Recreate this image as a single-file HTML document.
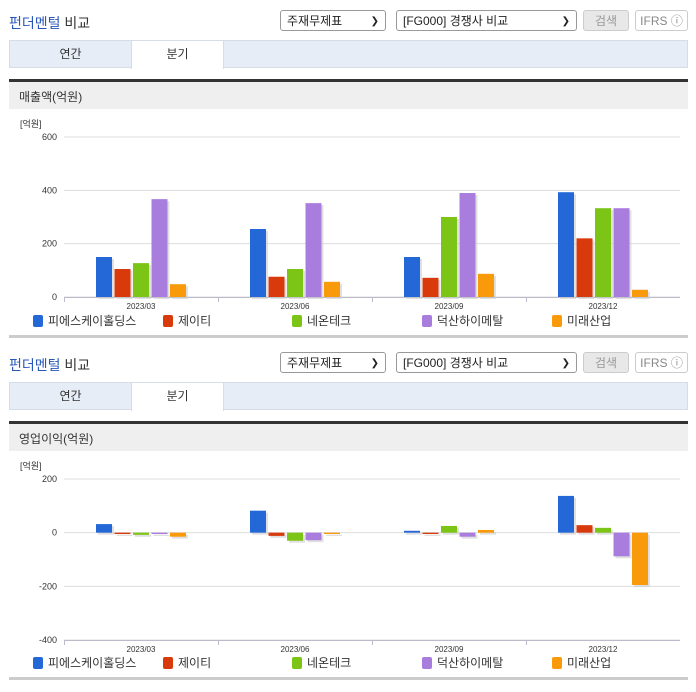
<!DOCTYPE html>
<html><head><meta charset="utf-8">
<style>
body{margin:0;width:696px;height:684px;background:#fff;font-family:"Liberation Sans","Noto Sans CJK KR",sans-serif;overflow:hidden;position:relative}
.abs{position:absolute}
.title{font-size:14px;color:#333}
.title b{color:#2857b8;font-weight:normal}
.sel{border:1px solid #999;border-radius:3px;background:#fff;font-size:12px;height:21px;line-height:21px;padding-left:6px;box-sizing:border-box;color:#222}
.sel span{position:absolute;right:6px;top:0;font-size:10px}
.btn{border:1px solid #ccc;border-radius:3px;font-size:12px;height:21px;line-height:20px;text-align:center;box-sizing:border-box;color:#999}
.tabs{left:9px;width:679px;height:28px;background:#e6edf7;border:1px solid #d6dde8;box-sizing:border-box}
.tab{top:0;height:28px;line-height:27px;text-align:center;font-size:12px;color:#333}
.sec{left:9px;width:679px;height:30px;background:#efefef;border-top:3px solid #333;font-size:12px;line-height:30px;padding-left:10px;box-sizing:border-box;color:#333}
</style></head><body>
<div id="root"></div>
<script>
const categories=["2023/03","2023/06","2023/09","2023/12"];
const seriesNames=["피에스케이홀딩스","제이티","네온테크","덕산하이메탈","미래산업"];
const colors=["#2468d8","#d83a0c","#7cc416","#a97ddd","#f99a0a"];
const sales=[[150,255,150,393],[105,76,72,220],[127,105,300,333],[367,352,390,333],[48,57,87,27]];
const op=[[32,82,7,137],[-5,-12,-5,28],[-8,-30,25,18],[-5,-28,-15,-88],[-15,-5,10,-195]];
const salesTicks=[0,200,400,600];
const opTicks=[-400,-200,0,200];
const panels=[{off:0,name:"매출액(억원)",data:sales,ticks:salesTicks,min:0,max:600,top:137,bot:297},
{off:342,name:"영업이익(억원)",data:op,ticks:opTicks,min:-400,max:200,top:479,bot:640}];
const root=document.getElementById('root');
const NS="http://www.w3.org/2000/svg";
panels.forEach((p,pi)=>{
 const o=p.off;
 root.insertAdjacentHTML('beforeend',`
 <div class="abs title" style="left:9px;top:${13+o}px"><b>펀더멘털</b> 비교</div>
 <div class="abs sel" style="left:280px;top:${10+o}px;width:106px">주재무제표<span>❯</span></div>
 <div class="abs sel" style="left:396px;top:${10+o}px;width:181px">[FG000] 경쟁사 비교<span>❯</span></div>
 <div class="abs btn" style="left:583px;top:${10+o}px;width:46px;background:#e8e8e8">검색</div>
 <div class="abs btn" style="left:635px;top:${10+o}px;width:53px;color:#888">IFRS ⓘ</div>
 <div class="abs tabs" style="top:${40+o}px">
  <div class="abs tab" style="left:0;width:121px">연간</div>
  <div class="abs tab" style="left:121px;width:91px;background:#fff;border-left:1px solid #d6dde8;border-right:1px solid #d6dde8;height:28px">분기</div>
 </div>
 <div class="abs sec" style="top:${79+o}px">${p.name}</div>
 <div class="abs" style="left:9px;top:${335+o}px;width:679px;height:3px;background:#ccc"></div>`);
 const svg=document.createElementNS(NS,'svg');
 
 
 svg.setAttribute('width','696');svg.setAttribute('height','240');
 svg.style.cssText=`position:absolute;left:0;top:${110+o}px`;
 root.appendChild(svg);
 const oy=110+o;
 const x0=64,x1=680,gw=(x1-x0)/categories.length;
 const y=v=>p.bot+(v-p.min)/(p.max-p.min)*(p.top-p.bot)-oy;
 const add=(tag,attrs,txt)=>{const e=document.createElementNS(NS,tag);for(const k in attrs)e.setAttribute(k,attrs[k]);if(txt!=null)e.textContent=txt;svg.appendChild(e);return e;};
 const u=add('text',{x:20,y:y(p.max)-10,'font-size':9,fill:'#333'},'[억원]');
 
 p.ticks.forEach(t=>{
  const g=add('line',{x1:x0,x2:x1,y1:y(t),y2:y(t),stroke:'#ddd'});
  
  const l=add('text',{x:57,y:y(t)+3,'font-size':9,fill:'#333','text-anchor':'end'},t);
  
 });
 const ax=add('line',{x1:x0,x2:x1,y1:p.bot-oy+0.5,y2:p.bot-oy+0.5,stroke:'#bbc'});
 
 categories.forEach((c,ci)=>{
  const tk=add('line',{x1:x0+gw*ci+0.5,x2:x0+gw*ci+0.5,y1:p.bot-oy,y2:p.bot-oy+5,stroke:'#bbc'});
  
  const cl=add('text',{x:x0+gw*ci+gw/2,y:p.bot-oy+12,'font-size':8,fill:'#333','text-anchor':'middle'},c);
  
  p.data.forEach((s,si)=>{
   const bx=x0+gw*ci+32+si*18.5,v=s[ci];
   const ya=y(Math.max(v,0)),yb=y(Math.min(v,0)),h=Math.max(yb-ya,1);
   const sh=add('rect',{x:bx+2,y:ya+2,width:16,height:h,fill:'#ccc',opacity:0.6});
   
   const b=add('rect',{x:bx,y:ya,width:16,height:h,fill:colors[si]});
   
  });
 });
 const lx=[33,163,292,422,552];
 seriesNames.forEach((n,si)=>{
  const sw=add('rect',{x:lx[si],y:205,width:10,height:12,rx:2,fill:colors[si]});
  
  const t=add('text',{x:lx[si]+15,y:215,'font-size':12,fill:'#333'},n);
  
 });
});
</script>
</body></html>
